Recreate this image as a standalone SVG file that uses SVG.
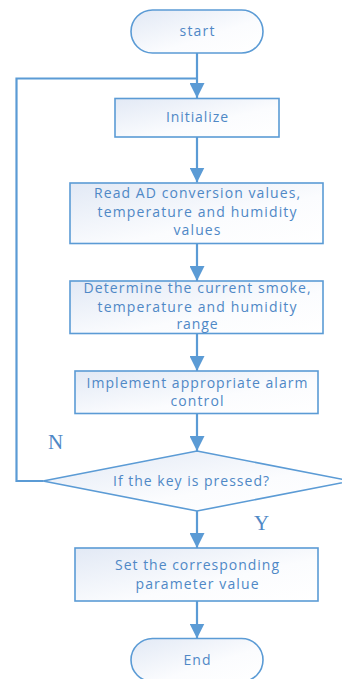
<svg xmlns="http://www.w3.org/2000/svg" width="342" height="679" viewBox="0 0 342 679">
<defs>
<linearGradient id="g" x1="0" y1="0" x2="1" y2="1">
<stop offset="0" stop-color="#e2e9f5"/>
<stop offset="0.6" stop-color="#fbfcfe"/>
<stop offset="1" stop-color="#ffffff"/>
</linearGradient>
<marker id="arr" markerUnits="userSpaceOnUse" markerWidth="16" markerHeight="15" refX="15" refY="7.5" orient="auto">
<path d="M0,0 L15,7.5 L0,15 Z" fill="#5b9bd5"/>
</marker>
<style>
.s{fill:url(#g);stroke:#5b9bd5;stroke-width:1.6}
.t{font-family:"Open Sans","Noto Sans",sans-serif;font-size:14px;fill:#4f88c6;text-anchor:middle}
.l{font-family:"Liberation Serif","Times New Roman",serif;font-size:21px;fill:#4f88c6}
.c{fill:none;stroke:#5b9bd5;stroke-width:2.2}
</style>
</defs>
<g id="connectors">
<line class="c" x1="197" y1="53" x2="197" y2="98" marker-end="url(#arr)"/>
<line class="c" x1="197" y1="137" x2="197" y2="182.5" marker-end="url(#arr)"/>
<line class="c" x1="197" y1="243.5" x2="197" y2="281" marker-end="url(#arr)"/>
<line class="c" x1="197" y1="333.5" x2="197" y2="371" marker-end="url(#arr)"/>
<line class="c" x1="197" y1="413.5" x2="197" y2="451" marker-end="url(#arr)"/>
<line class="c" x1="197" y1="511" x2="197" y2="548" marker-end="url(#arr)"/>
<line class="c" x1="197" y1="601" x2="197" y2="638.5" marker-end="url(#arr)"/>
<polyline class="c" points="43,481 16.5,481 16.5,78.5 197,78.5"/>
<text class="l" x="48" y="449">N</text>
<text class="l" x="254" y="530">Y</text>
</g>
<g id="start">
<rect class="s" x="131" y="10" width="132" height="43" rx="21.5"/>
<text class="t" x="197" y="36" textLength="35" lengthAdjust="spacing">start</text>
</g>
<g id="initialize">
<rect class="s" x="115" y="98.5" width="164" height="38.5"/>
<text class="t" x="197" y="122" textLength="62" lengthAdjust="spacing">Initialize</text>
</g>
<g id="read">
<rect class="s" x="70" y="183" width="253" height="60.5"/>
<text class="t" x="197" y="198" textLength="206" lengthAdjust="spacing">Read AD conversion values,</text>
<text class="t" x="197" y="216.5" textLength="199" lengthAdjust="spacing">temperature and humidity</text>
<text class="t" x="197" y="235" textLength="47" lengthAdjust="spacing">values</text>
</g>
<g id="determine">
<rect class="s" x="70" y="281" width="253" height="52.5"/>
<text class="t" x="197" y="293" textLength="227" lengthAdjust="spacing">Determine the current smoke,</text>
<text class="t" x="197" y="311.5" textLength="199" lengthAdjust="spacing">temperature and humidity</text>
<text class="t" x="197" y="329" textLength="41" lengthAdjust="spacing">range</text>
</g>
<g id="implement">
<rect class="s" x="75" y="371" width="243" height="42.5"/>
<text class="t" x="197" y="388" textLength="221" lengthAdjust="spacing">Implement appropriate alarm</text>
<text class="t" x="197" y="405.5" textLength="53" lengthAdjust="spacing">control</text>
</g>
<g id="decision">
<polygon class="s" points="197,451 351,481 197,511 43,481"/>
<text class="t" x="191" y="486" textLength="156" lengthAdjust="spacing">If the key is pressed?</text>
</g>
<g id="set">
<rect class="s" x="75" y="548" width="243" height="53"/>
<text class="t" x="197" y="570" textLength="164" lengthAdjust="spacing">Set the corresponding</text>
<text class="t" x="197" y="588.5" textLength="123" lengthAdjust="spacing">parameter value</text>
</g>
<g id="end">
<rect class="s" x="131" y="638.5" width="132" height="43" rx="21.5"/>
<text class="t" x="197" y="665" textLength="27" lengthAdjust="spacing">End</text>
</g>
</svg>
